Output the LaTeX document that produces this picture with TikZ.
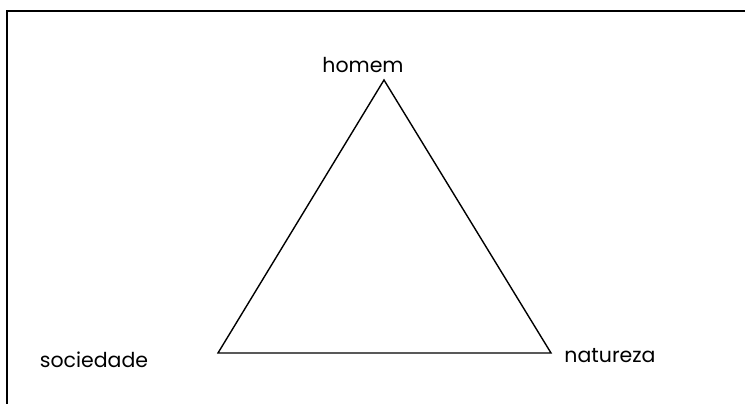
\documentclass[tikz,border=0pt]{standalone}
\usepackage{fontspec}
\setmainfont{Poppins}
\usetikzlibrary{positioning}
\tikzset{
  edge/.style={draw=black, line width=1.4pt, line join=miter},
  frame/.style={draw=black, line width=1.7pt},
  word/.style={font=\fontsize{20.5}{24}\selectfont, inner sep=0pt, text=black},
}

\begin{document}
\begin{tikzpicture}[x=1pt,y=1pt]
\useasboundingbox (0,0) rectangle (745,404);
% --- frame: top and left only ---
\coordinate (fbl) at (7,0);
\coordinate (ftl) at (7,393);
\coordinate (ftr) at (745,393);
\draw[frame] (fbl) -- (ftl) -- (ftr);

% --- triangle ---
\coordinate (top)   at (384,324);
\coordinate (left)  at (218,51);
\coordinate (right) at (551,51);
\draw[edge] (top) -- (left) -- (right) -- cycle;

% --- labels ---
\node[word] (homem) at (363,339) {homem};
\node[word] (soc)   at (94,44)   {sociedade};
\node[word] (nat)   at (610,48)  {natureza};
\end{tikzpicture}
\end{document}
